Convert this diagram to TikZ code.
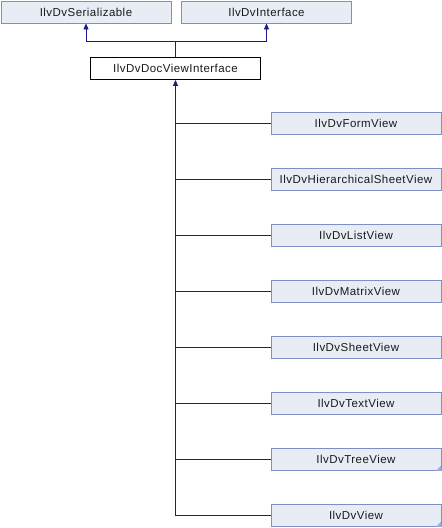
\documentclass[tikz,border=0pt]{standalone}
\usepackage{fontspec}
\setmainfont{Liberation Sans}[LetterSpace=4]
\usetikzlibrary{arrows.meta}
\definecolor{boxfill}{HTML}{E8ECF5}
\definecolor{boxline}{HTML}{7D8FC6}
\definecolor{edge}{HTML}{1A1A8C}
\definecolor{txt}{HTML}{1A1A1A}
\tikzset{
  cls/.style={draw=boxline, fill=boxfill, line width=0.8pt, minimum width=170pt, minimum height=22pt, inner sep=0pt, font=\fontsize{11.5}{13}\selectfont, text=txt},
  cur/.style={cls, draw=black, fill=white},
  conn/.style={draw=edge, line width=0.8pt},
  inh/.style={conn, -{Triangle[width=5pt,length=6pt]}},
  fold/.style={fill=boxline!70}
}
\begin{document}
\begin{tikzpicture}[x=1pt,y=-1pt]
\useasboundingbox (0,0) rectangle (442,528);
\node[cls] (ser) at (86,12) {IlvDvSerializable};
\node[cls] (ifc) at (266.5,12) {IlvDvInterface};
\node[cur] (dvi) at (175.5,68.5) {IlvDvDocViewInterface};
\coordinate (j) at (175.5,41);
\draw[inh] (dvi.north) -- (j) -| (ser.south);
\draw[inh] (j) -| (ifc.south);
\foreach \n/\t/\y in {a/IlvDvFormView/123.5, b/IlvDvHierarchicalSheetView/179.5, c/IlvDvListView/235.5, d/IlvDvMatrixView/291.5, e/IlvDvSheetView/347.5, f/IlvDvTextView/403.5, g/IlvDvTreeView/459.5, h/IlvDvView/515.5}{
  \node[cls] (\n) at (356,\y) {\t};
}
\coordinate (bot) at (175.5,515.5);
\draw[conn] (bot) -- (h.west);
\foreach \n in {a,b,c,d,e,f,g}{
  \draw[conn] (\n.west) -- (\n.west -| bot);
}
\draw[inh] (bot) -- (dvi.south);
\foreach \n in {g,h}{
  \fill[fold] ([xshift=-0.4pt,yshift=0.4pt]\n.south east) -- ++(-5,0) -- ++(5,-5) -- cycle;
}
\end{tikzpicture}
\end{document}
